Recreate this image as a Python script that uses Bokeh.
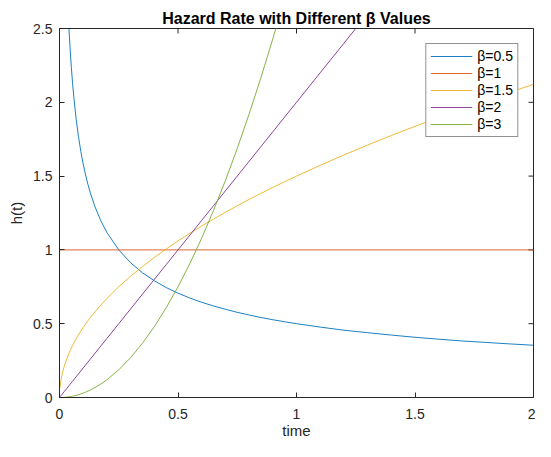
import math
from bokeh.plotting import figure
from bokeh.models import FixedTicker, Legend, LegendItem, Range1d
from bokeh.embed import file_html
from bokeh.resources import INLINE

# time grid
time = [0.002, 0.005, 0.01, 0.02, 0.03, 0.04, 0.045, 0.05, 0.055, 0.06, 0.07, 0.08, 0.09, 0.1,
        0.11, 0.12, 0.13, 0.15, 0.175, 0.2, 0.25,
        0.3, 0.35, 0.4, 0.45, 0.5, 0.55, 0.6, 0.65, 0.7, 0.75, 0.8,
        0.85, 0.9, 0.95, 1.0, 1.1, 1.2, 1.3, 1.4, 1.5, 1.6, 1.7, 1.8, 1.9, 2.0]

h_b05 = [11.18, 7.07, 5.0, 3.536, 2.887, 2.5, 2.357, 2.236, 2.132, 2.041, 1.890, 1.768, 1.667, 1.581,
         1.508, 1.443, 1.387, 1.291, 1.195, 1.118, 1.0,
         0.913, 0.845, 0.791, 0.745, 0.707, 0.674, 0.645, 0.620, 0.598, 0.577, 0.559,
         0.542, 0.527, 0.513, 0.5, 0.477, 0.456, 0.439, 0.423, 0.408, 0.395, 0.383, 0.373, 0.363, 0.354]
time_b1 = [0.0, 2.0]
h_b1 = [1.0, 1.0]
h_b15 = [0.067, 0.106, 0.15, 0.212, 0.260, 0.3, 0.318, 0.335, 0.352, 0.367, 0.397, 0.424, 0.45, 0.474,
         0.497, 0.520, 0.541, 0.581, 0.627, 0.671, 0.75,
         0.822, 0.887, 0.949, 1.006, 1.061, 1.112, 1.162, 1.209, 1.255, 1.299, 1.342,
         1.383, 1.423, 1.462, 1.5, 1.573, 1.643, 1.710, 1.775, 1.837, 1.897, 1.956, 2.012, 2.068, 2.121]
h_b2 = [0.004, 0.01, 0.02, 0.04, 0.06, 0.08, 0.09, 0.1, 0.11, 0.12, 0.14, 0.16, 0.18, 0.2,
        0.22, 0.24, 0.26, 0.3, 0.35, 0.4, 0.5,
        0.6, 0.7, 0.8, 0.9, 1.0, 1.1, 1.2, 1.3, 1.4, 1.5, 1.6,
        1.7, 1.8, 1.9, 2.0, 2.2, 2.4, 2.6, 2.8, 3.0, 3.2, 3.4, 3.6, 3.8, 4.0]
h_b3 = [0.000012, 0.000075, 0.0003, 0.0012, 0.0027, 0.0048, 0.006075, 0.0075, 0.009075, 0.0108, 0.0147,
        0.0192, 0.0243, 0.03, 0.0363, 0.0432, 0.0507, 0.0675, 0.0919, 0.12, 0.1875,
        0.27, 0.3675, 0.48, 0.6075, 0.75, 0.9075, 1.08, 1.2675, 1.47, 1.6875, 1.92,
        2.1675, 2.43, 2.7075, 3.0, 3.63, 4.32, 5.07, 5.88, 6.75, 7.68, 8.67, 9.72, 10.83, 12.0]

labels = ["β=0.5", "β=1", "β=1.5", "β=2", "β=3"]
colors = ["#0072BD", "#D95319", "#EDB120", "#7E2F8E", "#77AC30"]
x_ticks = [0, 0.5, 1, 1.5, 2]
y_ticks = [0, 0.5, 1, 1.5, 2, 2.5]
x_lim = (0, 2)
y_lim = (0, 2.5)

FONT = "Liberation Sans"
TXT = "#262626"

p = figure(width=535, height=441,
           x_range=Range1d(*x_lim), y_range=Range1d(*y_lim),
           output_backend="svg", toolbar_location=None,
           title="Hazard Rate with Different β Values",
           min_border_left=59, min_border_right=2, min_border_top=28, min_border_bottom=0)
p.background_fill_color = "white"
p.border_fill_color = "white"
p.outline_line_color = TXT
p.outline_line_width = 1
p.xgrid.visible = False
p.ygrid.visible = False

p.title.align = "center"
p.title.text_font = FONT
p.title.text_font_size = "16px"
p.title.text_font_style = "bold"
p.title.text_color = "black"
p.title.standoff = 3

def style_axis(ax, ticks):
    ax.ticker = FixedTicker(ticks=ticks)
    ax.minor_tick_line_color = None
    ax.major_tick_in = 5
    ax.major_tick_out = 0
    ax.major_tick_line_color = TXT
    ax.axis_line_color = TXT
    ax.major_label_text_font = FONT
    ax.major_label_text_font_size = "14px"
    ax.major_label_text_color = TXT
    ax.axis_label_text_font = FONT
    ax.axis_label_text_font_size = "15px"
    ax.axis_label_text_font_style = "normal"
    ax.axis_label_text_color = TXT

style_axis(p.xaxis[0], x_ticks)
style_axis(p.yaxis[0], y_ticks)
p.xaxis[0].axis_label = "time"
p.yaxis[0].axis_label = "h(t)"
p.xaxis[0].major_label_standoff = 11
p.xaxis[0].axis_label_standoff = 0
p.yaxis[0].major_label_standoff = 7
p.yaxis[0].axis_label_standoff = 5

# inward ticks on the top and right edges of the box
p.scatter(x_ticks, [y_lim[1]] * len(x_ticks), marker="dash", size=10,
          angle=math.pi / 2, line_color=TXT, line_width=1)
p.scatter([x_lim[1]] * len(y_ticks), y_ticks, marker="dash", size=10,
          line_color=TXT, line_width=1)

series = [(time, h_b05), (time_b1, h_b1), (time, h_b15), (time, h_b2), (time, h_b3)]
items = []
for (xs, ys), lab, col in zip(series, labels, colors):
    r = p.line(xs, ys, line_color=col, line_width=0.9)
    items.append(LegendItem(label=lab, renderers=[r]))

legend = Legend(items=items, location="top_right")
legend.margin = 15
legend.padding = 4
legend.spacing = 1
legend.label_height = 16
legend.glyph_height = 16
legend.glyph_width = 42
legend.label_standoff = 5
legend.label_text_font = FONT
legend.label_text_font_size = "14px"
legend.label_text_color = "black"
legend.border_line_color = TXT
legend.border_line_width = 1
legend.background_fill_alpha = 1
p.add_layout(legend, "center")

open("out.html", "w").write(file_html(p, INLINE))
